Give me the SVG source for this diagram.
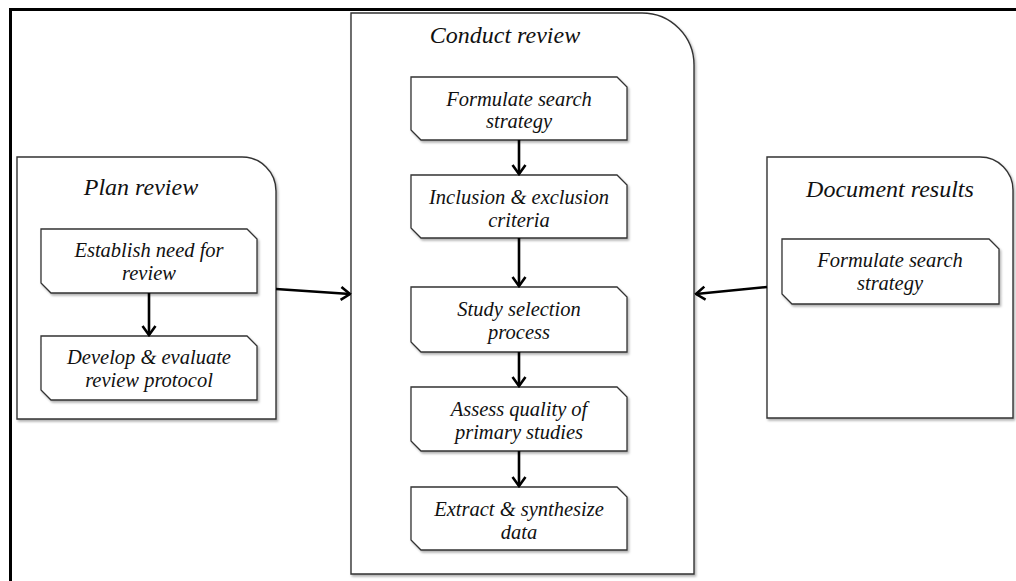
<svg xmlns="http://www.w3.org/2000/svg" width="1016" height="581" viewBox="0 0 1016 581">
  <defs>
    <style>
      .frame { fill: none; stroke: #000; stroke-width: 3; }
      .phase { fill: #fff; stroke: #333; stroke-width: 1.4; filter: url(#shadow); }
      .step { fill: #fff; stroke: #333; stroke-width: 1.3; filter: url(#shadow); }
      .title { font-family: "Liberation Serif", "Times New Roman", serif; font-style: italic; font-size: 24px; fill: #111; text-anchor: middle; }
      .label { font-family: "Liberation Serif", "Times New Roman", serif; font-style: italic; font-size: 20.5px; fill: #111; text-anchor: middle; }
      .link { fill: none; stroke: #000; stroke-width: 2.6; marker-end: url(#arrow); }
    </style>
    <filter id="shadow" x="-5%" y="-5%" width="115%" height="115%">
      <feDropShadow dx="1.5" dy="2" stdDeviation="1.2" flood-color="#000" flood-opacity="0.3"/>
    </filter>
    <marker id="arrow" viewBox="0 0 12 16" refX="10.5" refY="8" markerWidth="12" markerHeight="16" markerUnits="userSpaceOnUse" orient="auto">
      <path d="M1.5,1.5 L10.5,8 L1.5,14.5" fill="none" stroke="#000" stroke-width="2.6"/>
    </marker>
  </defs>

  <!-- outer frame (top and left edges) -->
  <path class="frame" d="M10.5,581 V9.5 H1016"/>

  <!-- phase: plan review -->
  <g id="plan-review">
    <path class="phase" d="M17,157 H242 A34,34 0 0 1 276,191 V419 H17 Z"/>
    <text class="title" x="141" y="195">Plan review</text>
  </g>
  <g id="establish-need">
    <path class="step" d="M41,229 H247 L257,239 V293 H51 L41,283 Z"/>
    <text class="label" x="149" y="257">Establish need for</text>
    <text class="label" x="149" y="280">review</text>
  </g>
  <g id="develop-protocol">
    <path class="step" d="M41,336 H247 L257,346 V400 H51 L41,390 Z"/>
    <text class="label" x="149" y="364">Develop &amp; evaluate</text>
    <text class="label" x="149" y="387">review protocol</text>
  </g>

  <!-- phase: conduct review -->
  <g id="conduct-review">
    <path class="phase" d="M351,13 H642 A52,52 0 0 1 694,65 V574 H351 Z"/>
    <text class="title" x="505" y="43">Conduct review</text>
  </g>
  <g id="search-strategy">
    <path class="step" d="M411,77 H617 L627,87 V140 H421 L411,130 Z"/>
    <text class="label" x="519" y="106">Formulate search</text>
    <text class="label" x="519" y="128">strategy</text>
  </g>
  <g id="inclusion-criteria">
    <path class="step" d="M411,175 H617 L627,185 V238 H421 L411,228 Z"/>
    <text class="label" x="519" y="204">Inclusion &amp; exclusion</text>
    <text class="label" x="519" y="227">criteria</text>
  </g>
  <g id="study-selection">
    <path class="step" d="M411,287 H617 L627,297 V352 H421 L411,342 Z"/>
    <text class="label" x="519" y="316">Study selection</text>
    <text class="label" x="519" y="339">process</text>
  </g>
  <g id="assess-quality">
    <path class="step" d="M411,387 H617 L627,397 V451 H421 L411,441 Z"/>
    <text class="label" x="519" y="416">Assess quality of</text>
    <text class="label" x="519" y="439">primary studies</text>
  </g>
  <g id="extract-data">
    <path class="step" d="M411,487 H617 L627,497 V550 H421 L411,540 Z"/>
    <text class="label" x="519" y="516">Extract &amp; synthesize</text>
    <text class="label" x="519" y="539">data</text>
  </g>

  <!-- phase: document results -->
  <g id="document-results">
    <path class="phase" d="M767,157 H980 A33,33 0 0 1 1013,190 V418 H767 Z"/>
    <text class="title" x="890" y="197">Document results</text>
  </g>
  <g id="report-strategy">
    <path class="step" d="M782,239 H989 L999,249 V304 H792 L782,294 Z"/>
    <text class="label" x="890" y="267">Formulate search</text>
    <text class="label" x="890" y="290">strategy</text>
  </g>

  <!-- connectors -->
  <g id="connectors">
    <line class="link" x1="149" y1="293" x2="149" y2="335"/>
    <line class="link" x1="519" y1="140" x2="519" y2="174"/>
    <line class="link" x1="519" y1="238" x2="519" y2="286"/>
    <line class="link" x1="519" y1="352" x2="519" y2="386"/>
    <line class="link" x1="519" y1="451" x2="519" y2="486"/>
    <line class="link" x1="276" y1="289" x2="350" y2="294"/>
    <line class="link" x1="767" y1="287" x2="696" y2="294"/>
  </g>
</svg>
